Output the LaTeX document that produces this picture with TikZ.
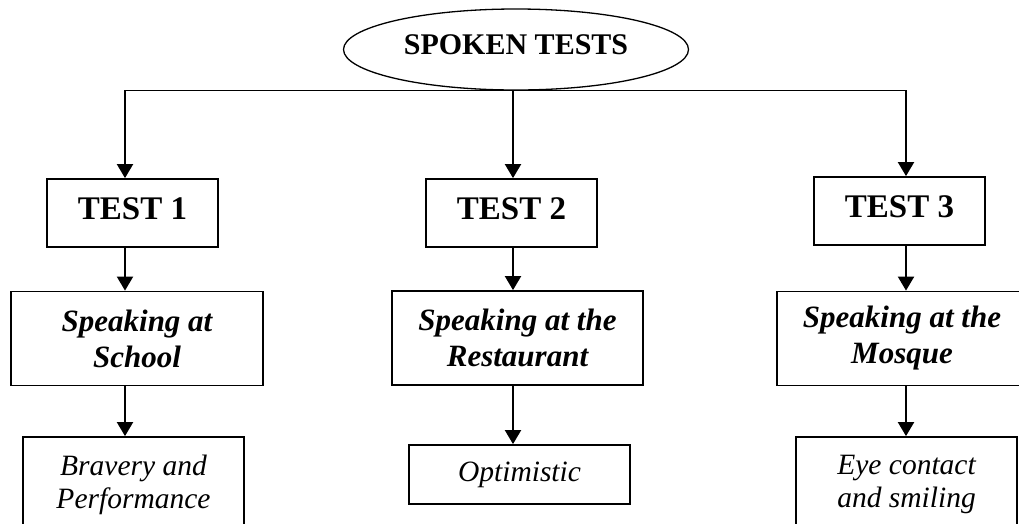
\documentclass[tikz,border=0pt]{standalone}
\usepackage{fontspec}
\setmainfont{Liberation Serif}
\usetikzlibrary{arrows.meta,shapes.geometric}

\begin{document}
\begin{tikzpicture}[x=1pt,y=-1pt,
  box/.style={draw,line width=1.8pt,inner sep=0pt,align=center},
  testbox/.style={box,minimum width=171pt,minimum height=68pt,
    font=\bfseries\fontsize{33}{38}\selectfont,text depth=8pt},
  topicbox/.style={box,minimum width=251pt,minimum height=94pt,
    font=\bfseries\itshape\fontsize{31}{36}\selectfont},
  skillbox/.style={box,minimum width=221pt,
    font=\itshape\fontsize{29.5}{33}\selectfont},
  arr/.style={line width=2pt,-{Triangle[width=16pt,length=14pt]}},
]
\useasboundingbox (0,0) rectangle (1019,523);
\clip (0,0) rectangle (1019,523);

% root
\node[draw,ellipse,line width=1.3pt,minimum width=345pt,minimum height=81pt,
  inner sep=0pt,font=\bfseries\fontsize{30}{36}\selectfont,text depth=9pt]
  (root) at (516,49.5) {SPOKEN TESTS};

% tests
\node[testbox] (t1) at (132.5,213) {TEST 1};
\node[testbox] (t2) at (511.5,213) {TEST 2};
\node[testbox] (t3) at (899.5,211) {TEST 3};

% topics
\node[topicbox,minimum width=252pt] (s1) at (137,338.5) {Speaking at\\School};
\node[topicbox] (s2) at (517.5,338) {Speaking at the\\Restaurant};
\node[topicbox,minimum width=250pt] (s3) at (902,338.5) {Speaking at the\\Mosque};

% skills
\node[skillbox,minimum height=95pt] (b1) at (133.5,484.5) {Bravery and\\Performance};
\node[skillbox,minimum height=59pt] (b2) at (519.5,474.5) {Optimistic};
\node[skillbox,minimum height=95pt] (b3) at (906.5,484.5) {Eye contact\\and smiling};

% branching line
\coordinate (j1) at (125,90.5);
\coordinate (j2) at (513,90.5);
\coordinate (j3) at (906,90.5);
\draw[line width=1.6pt,line cap=rect] (j1) -- (j3);

\draw[arr] (j1) -- (j1 |- t1.north);
\draw[arr] (j2) -- (j2 |- t2.north);
\draw[arr] (j3) -- (j3 |- t3.north);

\draw[arr] (j1 |- t1.south) -- (j1 |- s1.north);
\draw[arr] (j2 |- t2.south) -- (j2 |- s2.north);
\draw[arr] (j3 |- t3.south) -- (j3 |- s3.north);

\draw[arr] (j1 |- s1.south) -- (j1 |- b1.north);
\draw[arr] (j2 |- s2.south) -- (j2 |- b2.north);
\draw[arr] (j3 |- s3.south) -- (j3 |- b3.north);
\end{tikzpicture}
\end{document}
